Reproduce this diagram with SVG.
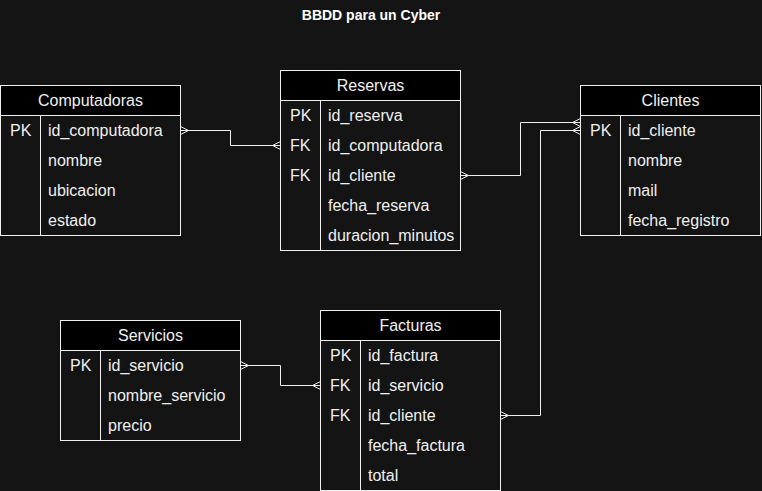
<svg xmlns="http://www.w3.org/2000/svg" width="762" height="491" viewBox="0 0 762 491">
<style>
text{font-family:"Liberation Sans",Arial,Helvetica,sans-serif;fill:#f0f0f0;font-size:16px}
.t{font-weight:bold;font-size:14px;fill:#ffffff}
.h{text-anchor:middle}
.hd{fill:#000000;stroke:#f0f0f0;stroke-width:1}
.bd{fill:none;stroke:#f0f0f0;stroke-width:1}
.ln{fill:none;stroke:#f0f0f0;stroke-width:1}
.mk{fill:none;stroke:#f0f0f0;stroke-width:1}
</style>
<rect x="0" y="0" width="762" height="491" fill="#141414"/>
<text class="t h" x="371" y="20">BBDD para un Cyber</text>

<g id="computadoras">
<rect class="bd" x="0.5" y="85.5" width="180" height="150"/>
<rect class="hd" x="0.5" y="85.5" width="180" height="30"/>
<line class="ln" x1="40.5" y1="115.5" x2="40.5" y2="235.5"/>
<text class="h" x="90.5" y="106">Computadoras</text>
<text x="10" y="136">PK</text>
<text x="48" y="136">id_computadora</text>
<text x="48" y="166">nombre</text>
<text x="48" y="196">ubicacion</text>
<text x="48" y="226">estado</text>
</g>

<g id="reservas">
<rect class="bd" x="280.5" y="70.5" width="180" height="180"/>
<rect class="hd" x="280.5" y="70.5" width="180" height="30"/>
<line class="ln" x1="320.5" y1="100.5" x2="320.5" y2="250.5"/>
<text class="h" x="370.5" y="91">Reservas</text>
<text x="290" y="121">PK</text>
<text x="328" y="121">id_reserva</text>
<text x="290" y="151">FK</text>
<text x="328" y="151">id_computadora</text>
<text x="290" y="181">FK</text>
<text x="328" y="181">id_cliente</text>
<text x="328" y="211">fecha_reserva</text>
<text x="328" y="241">duracion_minutos</text>
</g>

<g id="clientes">
<rect class="bd" x="580.5" y="85.5" width="180" height="150"/>
<rect class="hd" x="580.5" y="85.5" width="180" height="30"/>
<line class="ln" x1="620.5" y1="115.5" x2="620.5" y2="235.5"/>
<text class="h" x="670.5" y="106">Clientes</text>
<text x="590" y="136">PK</text>
<text x="628" y="136">id_cliente</text>
<text x="628" y="166">nombre</text>
<text x="628" y="196">mail</text>
<text x="628" y="226">fecha_registro</text>
</g>

<g id="servicios">
<rect class="bd" x="60.5" y="320.5" width="180" height="120"/>
<rect class="hd" x="60.5" y="320.5" width="180" height="30"/>
<line class="ln" x1="100.5" y1="350.5" x2="100.5" y2="440.5"/>
<text class="h" x="150.5" y="341">Servicios</text>
<text x="70" y="371">PK</text>
<text x="108" y="371">id_servicio</text>
<text x="108" y="401">nombre_servicio</text>
<text x="108" y="431">precio</text>
</g>

<g id="facturas">
<rect class="bd" x="320.5" y="310.5" width="180" height="180"/>
<rect class="hd" x="320.5" y="310.5" width="180" height="30"/>
<line class="ln" x1="360.5" y1="340.5" x2="360.5" y2="490.5"/>
<text class="h" x="410.5" y="331">Facturas</text>
<text x="330" y="361">PK</text>
<text x="368" y="361">id_factura</text>
<text x="330" y="391">FK</text>
<text x="368" y="391">id_servicio</text>
<text x="330" y="421">FK</text>
<text x="368" y="421">id_cliente</text>
<text x="368" y="451">fecha_factura</text>
<text x="368" y="481">total</text>
</g>

<g id="connectors">
<path class="ln" d="M180.5,130.5 H230.5 V145.5 H280.5"/>
<path class="mk" d="M180.5,126.5 L188.5,130.5 L180.5,134.5"/>
<path class="mk" d="M280.5,141.5 L272.5,145.5 L280.5,149.5"/>

<path class="ln" d="M460.5,175.5 H520.5 V122.5 H580.5"/>
<path class="mk" d="M460.5,171.5 L468.5,175.5 L460.5,179.5"/>
<path class="mk" d="M580.5,118.5 L572.5,122.5 L580.5,126.5"/>

<path class="ln" d="M500.5,415.5 H540.5 V130.5 H580.5"/>
<path class="mk" d="M500.5,411.5 L508.5,415.5 L500.5,419.5"/>
<path class="mk" d="M580.5,126.5 L572.5,130.5 L580.5,134.5"/>

<path class="ln" d="M240.5,365.5 H280.5 V385.5 H320.5"/>
<path class="mk" d="M240.5,361.5 L248.5,365.5 L240.5,369.5"/>
<path class="mk" d="M320.5,381.5 L312.5,385.5 L320.5,389.5"/>
</g>
</svg>
